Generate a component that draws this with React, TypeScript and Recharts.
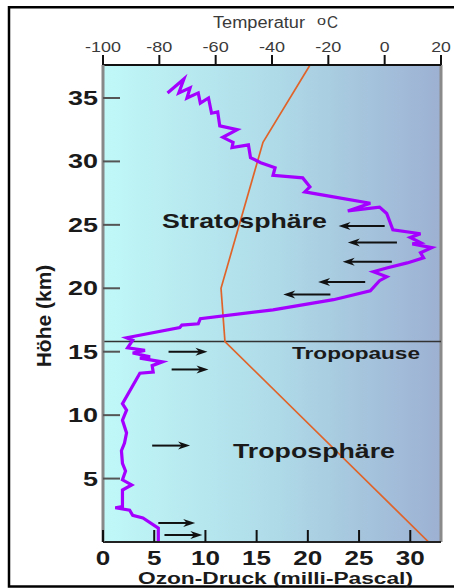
import { ComposedChart, Line, XAxis, YAxis, ReferenceArea, ReferenceLine } from 'recharts';

const FONT = '"Liberation Sans", Arial, Helvetica, sans-serif';

// Höhe (km) ticks, Ozon-Druck (mPa) ticks, Temperatur (°C) ticks
const heightTicks = [5, 10, 15, 20, 25, 30, 35];
const ozoneTicks = [0, 5, 10, 15, 20, 25, 30];
const tempTicks = [-100, -80, -60, -40, -20, 0, 20];

const heightDomain = [0, 37.6];
const ozoneDomain = [0, 33];
const tempDomain = [-100, 20];

const tropopauseHeight = 15.8;

// ozone partial pressure profile, top to bottom
const ozoneProfile = [
  { oz: 6.3, alt: 35.4 },
  { oz: 7.9, alt: 36.5 },
  { oz: 7.4, alt: 35.4 },
  { oz: 8.5, alt: 35.8 },
  { oz: 8.2, alt: 35.0 },
  { oz: 9.3, alt: 35.4 },
  { oz: 9.5, alt: 34.6 },
  { oz: 10.3, alt: 35.0 },
  { oz: 10.6, alt: 33.8 },
  { oz: 11.2, alt: 33.9 },
  { oz: 11.4, alt: 32.8 },
  { oz: 13.1, alt: 32.5 },
  { oz: 11.7, alt: 31.9 },
  { oz: 12.7, alt: 31.5 },
  { oz: 12.6, alt: 31.1 },
  { oz: 14.2, alt: 31.3 },
  { oz: 14.4, alt: 30.3 },
  { oz: 15.4, alt: 29.9 },
  { oz: 16.8, alt: 29.5 },
  { oz: 16.6, alt: 28.9 },
  { oz: 19.5, alt: 28.7 },
  { oz: 20.2, alt: 28.0 },
  { oz: 19.7, alt: 27.6 },
  { oz: 22.5, alt: 27.2 },
  { oz: 26.1, alt: 26.7 },
  { oz: 23.9, alt: 26.1 },
  { oz: 27.0, alt: 26.4 },
  { oz: 27.7, alt: 25.9 },
  { oz: 28.3, alt: 24.6 },
  { oz: 31.0, alt: 24.3 },
  { oz: 30.0, alt: 24.0 },
  { oz: 31.0, alt: 23.6 },
  { oz: 30.2, alt: 23.5 },
  { oz: 32.1, alt: 23.2 },
  { oz: 31.0, alt: 22.8 },
  { oz: 31.3, alt: 22.4 },
  { oz: 29.7, alt: 22.0 },
  { oz: 27.7, alt: 21.6 },
  { oz: 26.4, alt: 21.3 },
  { oz: 27.7, alt: 20.9 },
  { oz: 27.0, alt: 20.6 },
  { oz: 26.1, alt: 19.8 },
  { oz: 22.5, alt: 19.1 },
  { oz: 16.6, alt: 18.3 },
  { oz: 9.5, alt: 17.6 },
  { oz: 9.3, alt: 17.2 },
  { oz: 7.7, alt: 17.1 },
  { oz: 7.5, alt: 16.9 },
  { oz: 2.3, alt: 16.1 },
  { oz: 2.9, alt: 15.9 },
  { oz: 2.4, alt: 15.3 },
  { oz: 4.1, alt: 15.1 },
  { oz: 2.9, alt: 14.9 },
  { oz: 4.6, alt: 14.6 },
  { oz: 3.6, alt: 14.5 },
  { oz: 5.8, alt: 14.2 },
  { oz: 4.8, alt: 13.9 },
  { oz: 4.9, alt: 13.4 },
  { oz: 3.6, alt: 13.3 },
  { oz: 1.9, alt: 10.9 },
  { oz: 2.3, alt: 10.4 },
  { oz: 1.9, alt: 9.6 },
  { oz: 2.3, alt: 8.6 },
  { oz: 2.1, alt: 7.8 },
  { oz: 1.8, alt: 7.2 },
  { oz: 1.9, alt: 6.2 },
  { oz: 2.2, alt: 5.6 },
  { oz: 1.9, alt: 4.9 },
  { oz: 2.8, alt: 4.5 },
  { oz: 1.9, alt: 4.1 },
  { oz: 1.9, alt: 2.8 },
  { oz: 1.2, alt: 2.7 },
  { oz: 2.6, alt: 2.5 },
  { oz: 2.9, alt: 2.1 },
  { oz: 3.9, alt: 1.9 },
  { oz: 5.4, alt: 1.1 },
  { oz: 5.4, alt: 0 },
];

const temperatureProfile = [
  { t: -26.5, alt: 37.6 },
  { t: -43.2, alt: 31.5 },
  { t: -58.1, alt: 20.0 },
  { t: -56.7, alt: 15.8 },
  { t: 15.6, alt: 0 },
];

// arrows: tail (from) -> tip (to) in mPa, at height alt
const stratoArrows = [
  { from: 27.5, to: 23.0, alt: 24.9 },
  { from: 28.7, to: 23.9, alt: 23.6 },
  { from: 28.2, to: 23.4, alt: 22.1 },
  { from: 25.6, to: 21.0, alt: 20.5 },
  { from: 22.2, to: 17.6, alt: 19.5 },
];
const tropoArrows = [
  { from: 6.4, to: 10.2, alt: 15.0 },
  { from: 6.7, to: 10.3, alt: 13.6 },
  { from: 4.8, to: 8.5, alt: 7.6 },
  { from: 5.4, to: 9.0, alt: 1.5 },
  { from: 6.0, to: 9.7, alt: 0.55 },
];

function HeightTick({ x, y, payload }: any) {
  const label = String(payload.value);
  const w = label.length * 15;
  return (
    <g>
      <line x1={x} y1={y} x2={x + 17} y2={y} stroke="#555" strokeWidth={2} />
      <text x={x - 5 - w} y={y + 7} textLength={w} lengthAdjust="spacingAndGlyphs"
        fontSize={20} fontWeight="bold" fill="#1a1a1a" fontFamily={FONT}>{label}</text>
    </g>
  );
}

function OzoneTick({ x, y, payload }: any) {
  const label = String(payload.value);
  const w = label.length * 14.5;
  return (
    <g>
      <line x1={x} y1={y} x2={x} y2={y - 12} stroke="#111" strokeWidth={2} />
      <text x={x - w / 2} y={y + 23} textLength={w} lengthAdjust="spacingAndGlyphs"
        fontSize={20} fontWeight="bold" fill="#1a1a1a" fontFamily={FONT}>{label}</text>
    </g>
  );
}

function TempTick({ x, y, payload }: any) {
  const label = String(payload.value);
  const digits = label.replace('-', '').length;
  const w = digits * 9.8 + (label.startsWith('-') ? 6.5 : 0);
  return (
    <g>
      <line x1={x} y1={y} x2={x} y2={y - 10} stroke="#111" strokeWidth={2} />
      <text x={x - w / 2} y={y - 13} textLength={w} lengthAdjust="spacingAndGlyphs"
        fontSize={15} fill="#3a3a3a" fontFamily={FONT}>{label}</text>
    </g>
  );
}

function Arrow({ x1, y1, x2, y2 }: any) {
  const dir = x2 > x1 ? 1 : -1;
  const len = 12;
  const half = 4;
  return (
    <g>
      <line x1={x1} y1={y1} x2={x2 - dir * len * 0.6} y2={y2} stroke="#111" strokeWidth={2} />
      <polygon points={`${x2},${y2} ${x2 - dir * len},${y2 - half} ${x2 - dir * len * 0.7},${y2} ${x2 - dir * len},${y2 + half}`} fill="#111" />
    </g>
  );
}

export default function App() {
  const arrows = [...stratoArrows, ...tropoArrows];
  return (
    <div style={{ position: 'fixed', left: 0, top: 0, width: 454, height: 588, overflow: 'hidden', background: '#fff' }}>
      <svg width={0} height={0} style={{ position: 'absolute' }}>
        <defs>
          <linearGradient id="ozBg" x1="0" y1="0" x2="1" y2="0">
            <stop offset="0%" stopColor="#c0f8f8" />
            <stop offset="50%" stopColor="#afdbe8" />
            <stop offset="100%" stopColor="#9db1d3" />
          </linearGradient>
        </defs>
      </svg>
      <ComposedChart width={454} height={588} margin={{ top: 25, right: 13, bottom: 6, left: 8 }}>
        <XAxis xAxisId="oz" orientation="bottom" type="number" dataKey="oz" height={40}
          domain={ozoneDomain} allowDataOverflow ticks={ozoneTicks} interval={0}
          tickLine={false} tickSize={0} tickMargin={0} tick={<OzoneTick />}
          axisLine={{ stroke: '#222', strokeWidth: 2 }} />
        <XAxis xAxisId="temp" orientation="top" type="number" dataKey="t" height={40}
          domain={tempDomain} allowDataOverflow ticks={tempTicks} interval={0}
          tickLine={false} tickSize={0} tickMargin={0} tick={<TempTick />}
          axisLine={{ stroke: '#111', strokeWidth: 2 }} />
        <YAxis type="number" dataKey="alt" width={95} domain={heightDomain} allowDataOverflow
          ticks={heightTicks} interval={0} tickLine={false} tickSize={0} tickMargin={0}
          tick={<HeightTick />} axisLine={{ stroke: '#888', strokeWidth: 3 }} />
        <ReferenceArea xAxisId="oz" x1={ozoneDomain[0]} x2={ozoneDomain[1]} y1={heightDomain[0]} y2={heightDomain[1]}
          fill="url(#ozBg)" fillOpacity={1} stroke="none" />
        <ReferenceLine xAxisId="oz" x={ozoneDomain[1]} stroke="#8a8a8a" strokeWidth={3} />
        <ReferenceLine xAxisId="oz" y={tropopauseHeight} stroke="#333" strokeWidth={1.5} />
        {arrows.map((a, i) => (
          <ReferenceLine key={i} xAxisId="oz" segment={[{ x: a.from, y: a.alt }, { x: a.to, y: a.alt }]}
            shape={(p: any) => <Arrow {...p} />} />
        ))}
        <Line xAxisId="temp" data={temperatureProfile} dataKey="alt" type="linear" stroke="#e0642a"
          strokeWidth={1.7} dot={false} activeDot={false} isAnimationActive={false} />
        <Line xAxisId="oz" data={ozoneProfile} dataKey="alt" type="linear" stroke="#a300ff"
          strokeWidth={3.2} strokeLinejoin="miter" dot={false} activeDot={false} isAnimationActive={false} />
      </ComposedChart>
      <svg width={454} height={588} style={{ position: 'absolute', left: 0, top: 0, pointerEvents: 'none' }} fontFamily={FONT}>
        <rect x={9} y={7.25} width={470} height={579.25} fill="none" stroke="#000" strokeWidth={2.5} />
        <text x={213} y={27.5} fontSize={16} fill="#3a3a3a" textLength={92} lengthAdjust="spacingAndGlyphs">Temperatur</text>
        <text x={317} y={24.5} fontSize={13} fill="#3a3a3a" textLength={9} lengthAdjust="spacingAndGlyphs">o</text>
        <text x={327} y={27.5} fontSize={16} fill="#3a3a3a" textLength={11} lengthAdjust="spacingAndGlyphs">C</text>
        <text x={138} y={584} fontSize={16} fontWeight="bold" fill="#1a1a1a" textLength={275} lengthAdjust="spacingAndGlyphs">Ozon-Druck (milli-Pascal)</text>
        <text x={51} y={316} fontSize={21} fontWeight="bold" fill="#1a1a1a" textAnchor="middle" transform="rotate(-90 51 316)">Höhe (km)</text>
        <text x={162} y={228} fontSize={21} fontWeight="bold" fill="#1a1a1a" textLength={165} lengthAdjust="spacingAndGlyphs">Stratosphäre</text>
        <text x={233} y={458} fontSize={21} fontWeight="bold" fill="#1a1a1a" textLength={162} lengthAdjust="spacingAndGlyphs">Troposphäre</text>
        <text x={292} y={359} fontSize={16} fontWeight="bold" fill="#1a1a1a" textLength={128} lengthAdjust="spacingAndGlyphs">Tropopause</text>
      </svg>
    </div>
  );
}
